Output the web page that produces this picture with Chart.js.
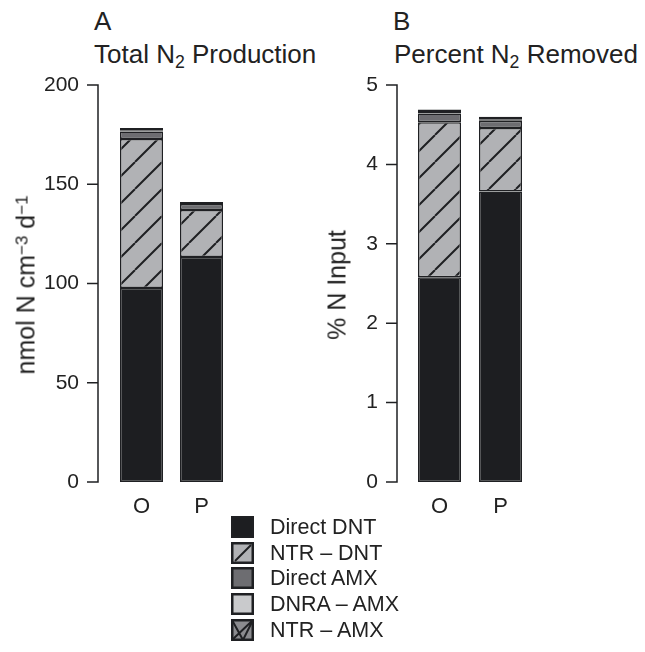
<!DOCTYPE html>
<html>
<head>
<meta charset="utf-8">
<script src="https://cdn.jsdelivr.net/npm/chart.js@4"></script>
<style>
  body { margin: 0; background: #fff; width: 645px; height: 652px; position: relative; overflow: hidden;
         font-family: "Liberation Sans", Arial, sans-serif; color: #222; }
  canvas.chart { position: absolute; top: 0; }
  .t { position: absolute; font-size: 26px; line-height: 1; white-space: nowrap; }
  sub { font-size: 0.68em; line-height: 0; vertical-align: -0.28em; }
  sup { font-size: 0.68em; line-height: 0; vertical-align: 0.42em; }
  .ytitle { position: absolute; font-size: 25px; line-height: 1; white-space: nowrap;
            transform: translate(-50%, -50%) rotate(-90deg); }
  .row { position: absolute; left: 231px; height: 22px; }
  .row canvas { position: absolute; left: 0; top: 0; }
  .row span { position: absolute; left: 39px; top: 0; font-size: 21.5px; line-height: 22px; white-space: nowrap; }
</style>
</head>
<body>
<div class="t" style="left:94px;top:8px">A</div>
<div class="t" style="left:94px;top:41px">Total N<sub>2</sub> Production</div>
<div class="t" style="left:393px;top:8px">B</div>
<div class="t" style="left:394px;top:41px">Percent N<sub>2</sub> Removed</div>
<canvas id="chartA" class="chart" width="310" height="530" style="left:0"></canvas>
<canvas id="chartB" class="chart" width="345" height="530" style="left:300px"></canvas>
<div class="ytitle" style="left:26px;top:285px">nmol N cm<sup>&minus;3</sup> d<sup>&minus;1</sup></div>
<div class="ytitle" style="left:337px;top:285px">% N Input</div>
<div id="legend"></div>
<script>
const categories = ['O', 'P'];
const seriesNames = ['Direct DNT', 'NTR \u2013 DNT', 'Direct AMX', 'DNRA \u2013 AMX', 'NTR \u2013 AMX'];

// panel A: total N2 production (nmol N cm-3 d-1)
const prodDirectDNT = [97.7, 113.4];
const prodNtrDNT = [75.1, 23.6];
const prodDirectAMX = [3.8, 3.0];
const prodDnraAMX = [0.6, 0.5];
const prodNtrAMX = [1.1, 0.6];

// panel B: percent of N input removed as N2
const pctDirectDNT = [2.58, 3.66];
const pctNtrDNT = [1.95, 0.80];
const pctDirectAMX = [0.11, 0.09];
const pctDnraAMX = [0.02, 0.02];
const pctNtrAMX = [0.03, 0.03];

const prodTicks = [0, 50, 100, 150, 200];
const pctTicks = [0, 1, 2, 3, 4, 5];

const FONT = '"Liberation Sans", Arial, sans-serif';
const INK = '#1f2023';
const fills = ['#1d1e21', '#b1b2b5', '#6d6d71', '#c9cacc', '#8b8b8f'];
const hatch = [null, 'diag', null, null, 'cross'];

function makePattern(fill, kind) {
  if (!kind) return fill;
  const s = 27;
  const c = document.createElement('canvas');
  c.width = s; c.height = s;
  const g = c.getContext('2d');
  g.fillStyle = fill;
  g.fillRect(0, 0, s, s);
  g.strokeStyle = INK;
  g.lineWidth = 2;
  g.beginPath();
  for (const d of [-s, 0, s]) {
    g.moveTo(d, s); g.lineTo(d + s, 0);
    if (kind === 'cross') { g.moveTo(d, 0); g.lineTo(d + s, s); }
  }
  g.stroke();
  return g.createPattern(c, 'repeat');
}

// R-style y axis, set off a little to the left of the plot area
const axisLine = {
  id: 'axisLine',
  afterDraw(chart, args, opts) {
    const { ctx, chartArea, scales: { y } } = chart;
    const x = chartArea.left - opts.offset;
    ctx.save();
    ctx.strokeStyle = INK;
    ctx.lineWidth = 1.5;
    ctx.beginPath();
    ctx.moveTo(x, y.getPixelForValue(y.max));
    ctx.lineTo(x, y.getPixelForValue(y.min));
    y.ticks.forEach(t => {
      const py = y.getPixelForValue(t.value);
      ctx.moveTo(x + 0.75, py);
      ctx.lineTo(x - 11, py);
    });
    ctx.stroke();
    ctx.restore();
  }
};

function buildChart(id, series, ticks, cfg) {
  const datasets = series.map((data, i) => ({
    label: seriesNames[i],
    data: data,
    backgroundColor: makePattern(fills[i], hatch[i]),
    borderColor: INK,
    borderWidth: 1.5,
    borderSkipped: false,
    barPercentage: cfg.barPct,
    categoryPercentage: 1
  }));
  return new Chart(document.getElementById(id), {
    type: 'bar',
    data: { labels: categories, datasets: datasets },
    plugins: [axisLine],
    options: {
      responsive: false,
      animation: false,
      layout: { padding: { left: 0, right: cfg.right, top: 85, bottom: 8 } },
      plugins: {
        legend: { display: false },
        tooltip: { enabled: false },
        axisLine: { offset: cfg.axisOffset }
      },
      scales: {
        x: {
          stacked: true,
          grid: { display: false, drawTicks: false },
          border: { display: false },
          ticks: { color: '#222', font: { family: FONT, size: 22 }, padding: 12 },
          afterFit: s => { s.height = 40; }
        },
        y: {
          stacked: true,
          min: ticks[0],
          max: ticks[ticks.length - 1],
          afterBuildTicks: s => { s.ticks = ticks.map(v => ({ value: v })); },
          grid: { display: false, drawTicks: false },
          border: { display: false },
          ticks: { color: '#222', font: { family: FONT, size: 21 }, padding: cfg.labelPad },
          afterFit: s => { s.width = cfg.left; }
        }
      }
    }
  });
}

buildChart('chartA',
  [prodDirectDNT, prodNtrDNT, prodDirectAMX, prodDnraAMX, prodNtrAMX],
  prodTicks,
  { left: 111.5, right: 78.5, barPct: 0.717, axisOffset: 13.5, labelPad: 32.5 });

buildChart('chartB',
  [pctDirectDNT, pctNtrDNT, pctDirectAMX, pctDnraAMX, pctNtrAMX],
  pctTicks,
  { left: 109, right: 114, barPct: 0.705, axisOffset: 12, labelPad: 31 });

// legend
const legend = document.getElementById('legend');
const rowCenters = [527, 553, 578, 604, 630];
seriesNames.forEach((name, i) => {
  const row = document.createElement('div');
  row.className = 'row';
  row.style.top = (rowCenters[i] - 11) + 'px';
  const sw = document.createElement('canvas');
  sw.width = 23; sw.height = 22;
  const g = sw.getContext('2d');
  g.fillStyle = fills[i];
  g.fillRect(0, 0, 23, 22);
  g.strokeStyle = INK;
  g.lineWidth = 2;
  g.beginPath();
  if (hatch[i] === 'diag') { g.moveTo(4, 19); g.lineTo(20, 3); }
  if (hatch[i] === 'cross') { g.moveTo(1, 1); g.lineTo(12, 21); g.lineTo(22, 1); g.moveTo(1, 21); g.lineTo(22, 1); }
  g.stroke();
  g.lineWidth = 2.5;
  g.strokeRect(1.25, 1.25, 20.5, 19.5);
  const label = document.createElement('span');
  label.textContent = name;
  row.appendChild(sw);
  row.appendChild(label);
  legend.appendChild(row);
});
</script>
</body>
</html>
